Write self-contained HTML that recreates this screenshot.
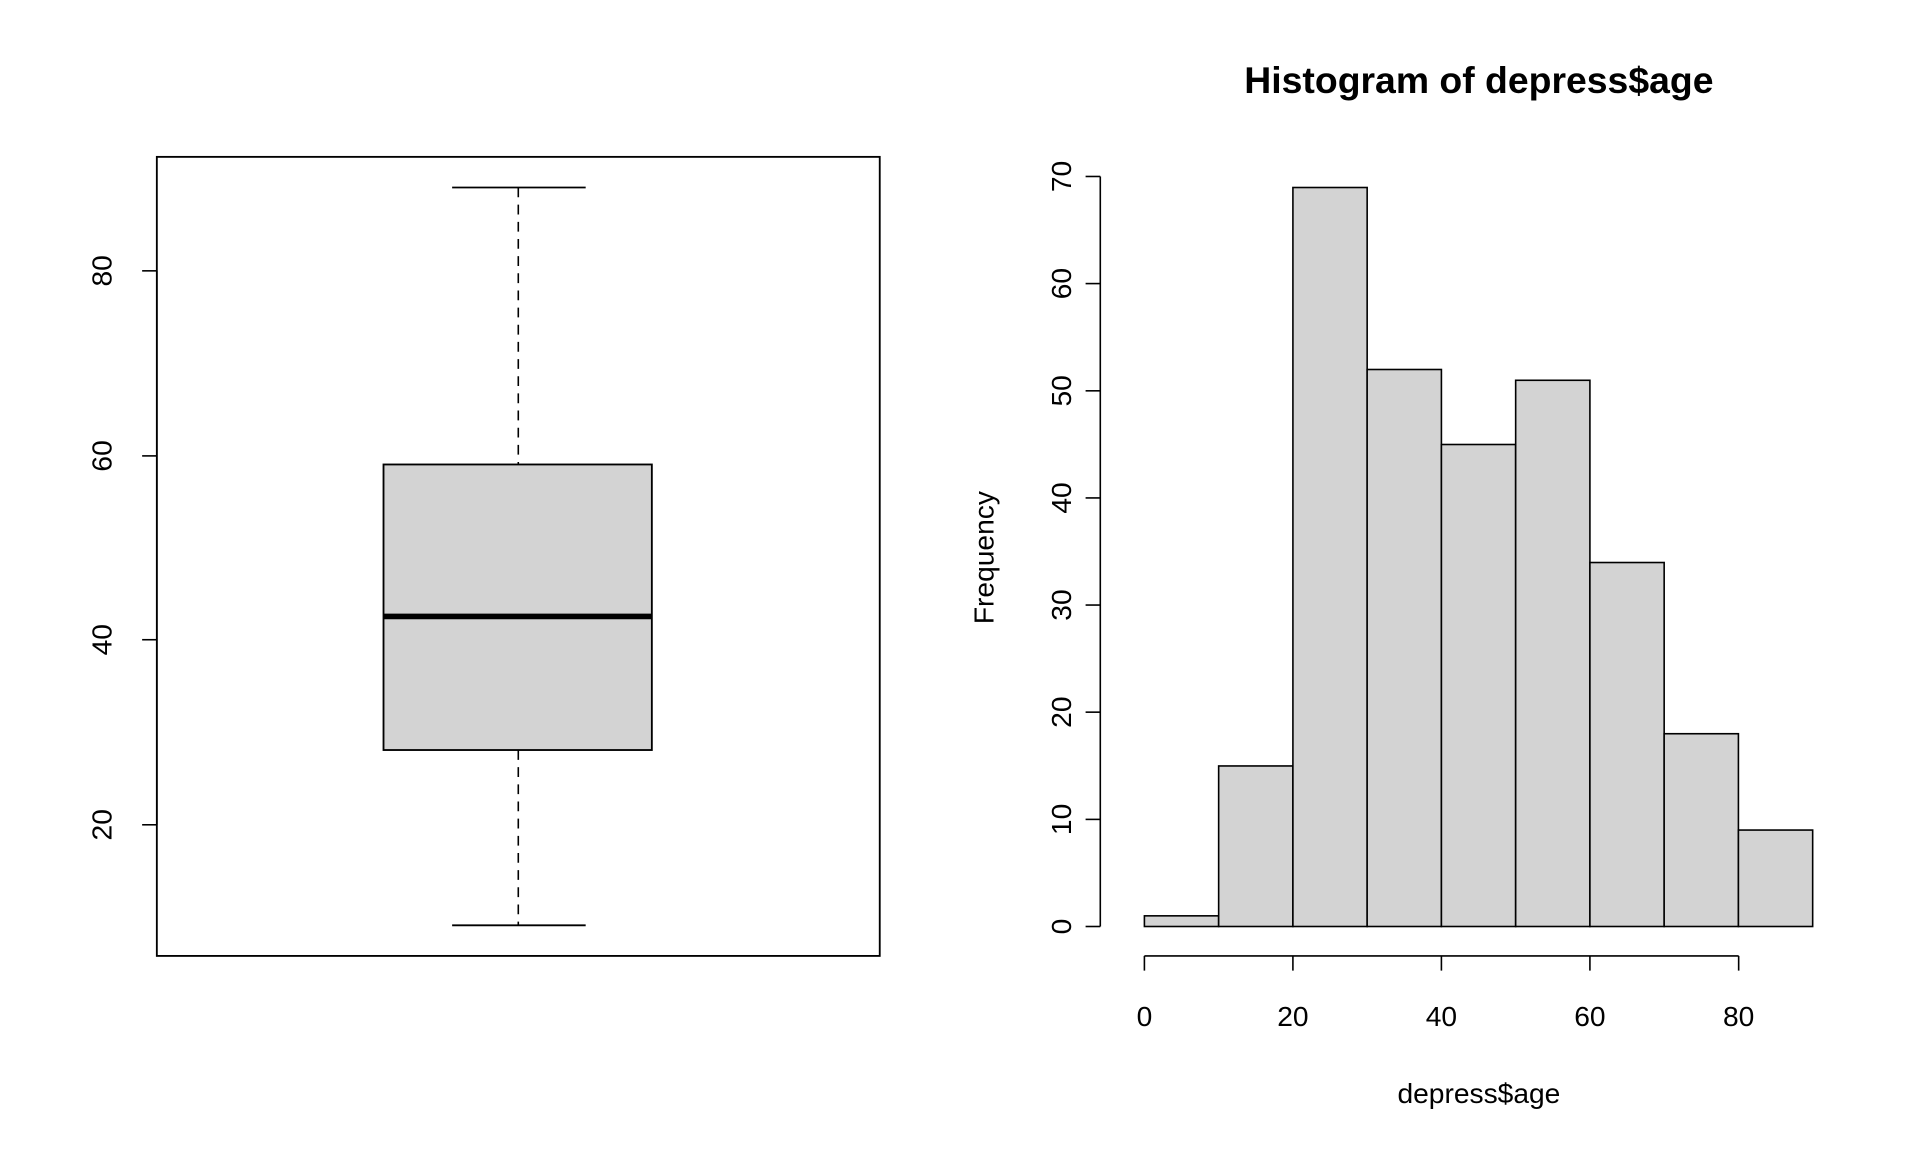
<!DOCTYPE html>
<html><head><meta charset="utf-8"><style>html,body{margin:0;padding:0;background:#fff;}svg{display:block}</style></head>
<body>
<svg width="1920" height="1152" viewBox="0 0 1567 940" preserveAspectRatio="none" xmlns="http://www.w3.org/2000/svg" font-family="Liberation Sans, sans-serif">
<rect width="1567" height="940" fill="#fff"/>
<!-- Boxplot -->
<rect x="128" y="128" width="590" height="652" fill="none" stroke="#000" stroke-width="1.5"/>
<line x1="423" y1="153" x2="423" y2="379" stroke="#000" stroke-width="1.3" stroke-dasharray="8,6"/>
<line x1="423" y1="612" x2="423" y2="755" stroke="#000" stroke-width="1.3" stroke-dasharray="8,6"/>
<line x1="369" y1="153" x2="478" y2="153" stroke="#000" stroke-width="1.5"/>
<line x1="369" y1="755" x2="478" y2="755" stroke="#000" stroke-width="1.5"/>
<rect x="313" y="379" width="219" height="233" fill="#d3d3d3" stroke="#000" stroke-width="1.5"/>
<line x1="313" y1="503" x2="532" y2="503" stroke="#000" stroke-width="4.5"/>
<g stroke="#000" stroke-width="1.3">
<line x1="116" y1="221" x2="128" y2="221"/><line x1="116" y1="372" x2="128" y2="372"/>
<line x1="116" y1="522" x2="128" y2="522"/><line x1="116" y1="673" x2="128" y2="673"/>
<line x1="128" y1="221" x2="128" y2="673"/>
</g>
<g font-size="23" text-anchor="middle" fill="#000">
<text transform="translate(91,221) rotate(-90)">80</text>
<text transform="translate(91,372) rotate(-90)">60</text>
<text transform="translate(91,522) rotate(-90)">40</text>
<text transform="translate(91,673) rotate(-90)">20</text>
</g>
<!-- Histogram -->
<g fill="#d3d3d3" stroke="#000" stroke-width="1.3">
<rect x="934" y="747.3" width="60.6" height="8.7"/>
<rect x="994.6" y="625" width="60.6" height="131"/>
<rect x="1055.2" y="153" width="60.6" height="603"/>
<rect x="1115.8" y="301.5" width="60.6" height="454.5"/>
<rect x="1176.4" y="362.7" width="60.6" height="393.3"/>
<rect x="1237" y="310.3" width="60.6" height="445.7"/>
<rect x="1297.6" y="459" width="60.6" height="297"/>
<rect x="1358.2" y="598.7" width="60.6" height="157.3"/>
<rect x="1418.8" y="677.3" width="60.6" height="78.7"/>
</g>
<g stroke="#000" stroke-width="1.3">
<line x1="898" y1="144" x2="898" y2="756"/>
<line x1="886" y1="756" x2="898" y2="756"/><line x1="886" y1="668.6" x2="898" y2="668.6"/>
<line x1="886" y1="581.1" x2="898" y2="581.1"/><line x1="886" y1="493.7" x2="898" y2="493.7"/>
<line x1="886" y1="406.3" x2="898" y2="406.3"/><line x1="886" y1="318.9" x2="898" y2="318.9"/>
<line x1="886" y1="231.4" x2="898" y2="231.4"/><line x1="886" y1="144" x2="898" y2="144"/>
<line x1="934" y1="780" x2="1419" y2="780"/>
<line x1="934" y1="780" x2="934" y2="792"/><line x1="1055.2" y1="780" x2="1055.2" y2="792"/>
<line x1="1176.4" y1="780" x2="1176.4" y2="792"/><line x1="1297.6" y1="780" x2="1297.6" y2="792"/>
<line x1="1419" y1="780" x2="1419" y2="792"/>
</g>
<g font-size="23" text-anchor="middle" fill="#000">
<text transform="translate(874,756) rotate(-90)">0</text>
<text transform="translate(874,668.6) rotate(-90)">10</text>
<text transform="translate(874,581.1) rotate(-90)">20</text>
<text transform="translate(874,493.7) rotate(-90)">30</text>
<text transform="translate(874,406.3) rotate(-90)">40</text>
<text transform="translate(874,318.9) rotate(-90)">50</text>
<text transform="translate(874,231.4) rotate(-90)">60</text>
<text transform="translate(874,144) rotate(-90)">70</text>
<text x="934" y="837">0</text><text x="1055.2" y="837">20</text><text x="1176.4" y="837">40</text>
<text x="1297.6" y="837">60</text><text x="1419" y="837">80</text>
<text x="1207" y="900">depress$age</text>
<text transform="translate(811,455) rotate(-90)">Frequency</text>
<text x="1207" y="76" font-size="30.5" font-weight="bold">Histogram of depress$age</text>
</g>
</svg>
</body></html>
